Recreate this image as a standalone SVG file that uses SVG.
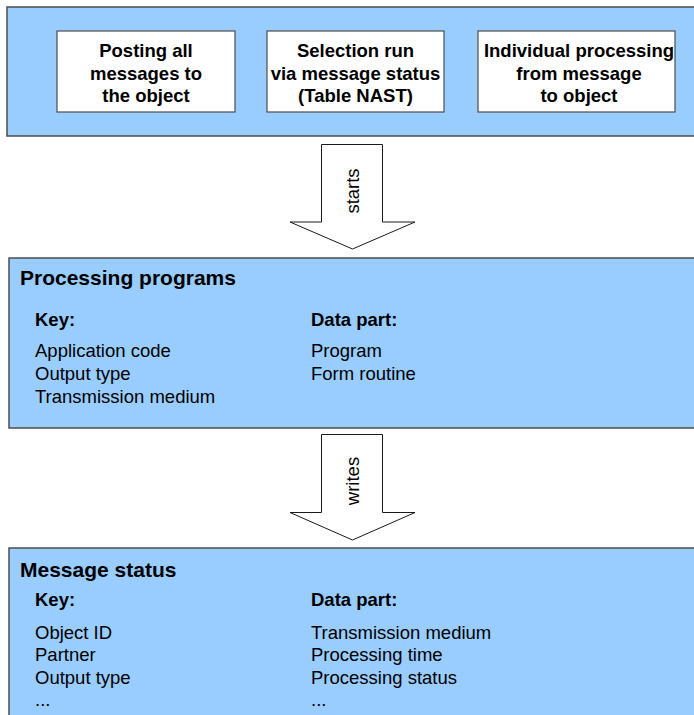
<svg xmlns="http://www.w3.org/2000/svg" width="694" height="715" viewBox="0 0 694 715">
<style>
.panel{fill:#99ccff;stroke:#4d4d4d;stroke-width:1.5}
.box{fill:#ffffff;stroke:#4d4d4d;stroke-width:1.2}
.arrow{fill:#ffffff;stroke:#1a1a1a;stroke-width:1}
text{font-family:"Liberation Sans",Arial,sans-serif;fill:#000}
.bt{font-size:18.5px;font-weight:bold;text-anchor:middle}
.title{font-size:21px;font-weight:bold}
.hd{font-size:18.5px;font-weight:bold}
.it{font-size:18.5px}
.lbl{font-size:18.5px;text-anchor:middle}
</style>
<rect width="694" height="715" fill="#ffffff"/>
<g id="top-panel">
<rect class="panel" x="7" y="7" width="700" height="129"/>
</g>
<g id="posting">
<rect class="box" x="57" y="31" width="178" height="81"/>
<text class="bt" x="146" y="57">Posting all</text>
<text class="bt" x="146" y="80">messages to</text>
<text class="bt" x="146" y="102">the object</text>
</g>
<g id="selection">
<rect class="box" x="267" y="31" width="177" height="81"/>
<text class="bt" x="355.5" y="57">Selection run</text>
<text class="bt" x="355.5" y="80">via message status</text>
<text class="bt" x="355.5" y="102">(Table NAST)</text>
</g>
<g id="individual">
<rect class="box" x="478" y="31" width="197" height="81"/>
<text class="bt" x="579" y="57">Individual processing</text>
<text class="bt" x="579" y="80">from message</text>
<text class="bt" x="579" y="102">to object</text>
</g>
<g id="processing-programs">
<rect class="panel" x="9" y="258" width="700" height="170"/>
<text class="title" x="20" y="285">Processing programs</text>
<text class="hd" x="35" y="326">Key:</text>
<text class="hd" x="311" y="326">Data part:</text>
<text class="it" x="35" y="357">Application code</text>
<text class="it" x="35" y="380">Output type</text>
<text class="it" x="35" y="403">Transmission medium</text>
<text class="it" x="311" y="357">Program</text>
<text class="it" x="311" y="380">Form routine</text>
</g>
<g id="message-status">
<rect class="panel" x="9" y="548" width="700" height="180"/>
<text class="title" x="20" y="577">Message status</text>
<text class="hd" x="35" y="606">Key:</text>
<text class="hd" x="311" y="606">Data part:</text>
<text class="it" x="35" y="639">Object ID</text>
<text class="it" x="35" y="661">Partner</text>
<text class="it" x="35" y="684">Output type</text>
<text class="it" x="35" y="706">...</text>
<text class="it" x="311" y="639">Transmission medium</text>
<text class="it" x="311" y="661">Processing time</text>
<text class="it" x="311" y="684">Processing status</text>
<text class="it" x="311" y="706">...</text>
</g>
<g id="connectors">
<polygon class="arrow" points="321.5,144.5 382.5,144.5 382.5,222 415,222 352.5,249 290,222 321.5,222"/>
<text class="lbl" transform="translate(359,191) rotate(-90)">starts</text>
<polygon class="arrow" points="321.5,434.5 382.5,434.5 382.5,512.5 415,512.5 352.5,540 290,512.5 321.5,512.5"/>
<text class="lbl" transform="translate(359,481) rotate(-90)">writes</text>
</g>
</svg>
